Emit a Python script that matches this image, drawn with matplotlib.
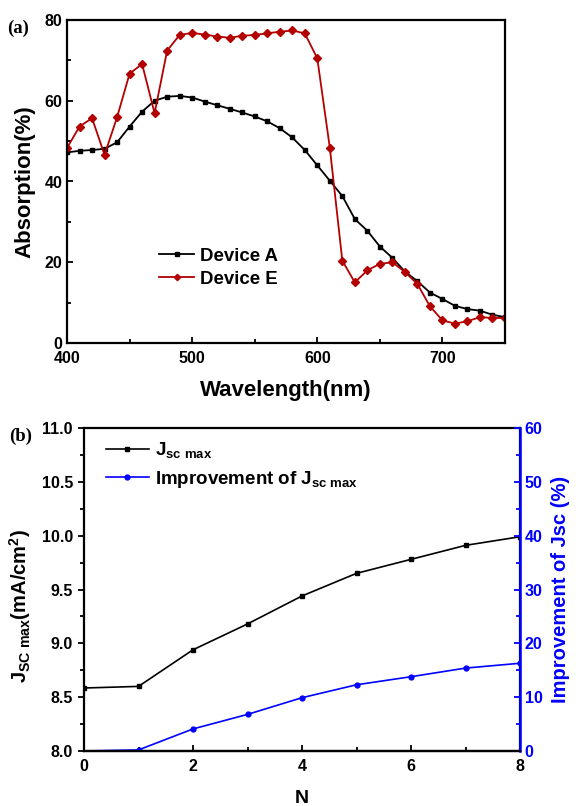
import matplotlib
matplotlib.use("Agg")
import matplotlib.pyplot as plt
from matplotlib.ticker import MultipleLocator, FormatStrFormatter

plt.rcParams['font.family'] = ['Liberation Sans', 'DejaVu Sans']
plt.rcParams['font.weight'] = 'bold'
plt.rcParams['mathtext.fontset'] = 'custom'
plt.rcParams['mathtext.rm'] = 'Liberation Sans:bold'
plt.rcParams['mathtext.it'] = 'Liberation Sans:bold'
plt.rcParams['mathtext.bf'] = 'Liberation Sans:bold'
plt.rcParams['mathtext.sf'] = 'Liberation Sans'

# ---- data (a) ----
wavelength = [400, 410, 420, 430, 440, 450, 460, 470, 480, 490, 500, 510, 520, 530,
              540, 550, 560, 570, 580, 590, 600, 610, 620, 630, 640, 650, 660, 670,
              680, 690, 700, 710, 720, 730, 740, 750]
device_a = [47.2, 47.6, 47.8, 48.1, 49.7, 53.6, 57.3, 60.0, 61.0, 61.2, 60.8, 59.8,
            58.9, 58.0, 57.1, 56.1, 54.9, 53.2, 50.9, 47.8, 44.0, 40.2, 36.4, 30.7,
            27.8, 23.9, 21.1, 17.7, 15.3, 12.5, 10.9, 9.2, 8.4, 8.0, 7.0, 6.4]
device_e = [48.3, 53.6, 55.7, 46.6, 55.9, 66.7, 69.1, 56.9, 72.4, 76.3, 76.8, 76.4,
            75.9, 75.6, 76.1, 76.3, 76.7, 77.1, 77.4, 76.7, 70.5, 48.4, 20.4, 15.0,
            18.0, 19.6, 20.0, 17.6, 14.6, 9.1, 5.6, 4.8, 5.4, 6.4, 6.2, 6.2]

# ---- data (b) ----
n_layers = [0, 1, 2, 3, 4, 5, 6, 7, 8]
jsc_max = [8.585, 8.60, 8.94, 9.18, 9.44, 9.65, 9.78, 9.91, 9.99]
improvement = [0.0, 0.2, 4.1, 6.8, 9.9, 12.3, 13.8, 15.4, 16.3]

W, H = 581, 806
fig = plt.figure(figsize=(W / 100, H / 100), dpi=100)

def box(l, r, t, b):
    return [l / W, 1 - b / H, (r - l) / W, (b - t) / H]

red = '#B30000'
blue = '#0000FF'
tick_fs = 11.5

# ---------- panel (a) ----------
ax1 = fig.add_axes(box(67, 505, 20, 343))
ax1.plot(wavelength, device_a, color='black', lw=1.3, marker='s', ms=3.5, label='Device A')
ax1.plot(wavelength, device_e, color=red, lw=1.3, marker='D', ms=4, label='Device E')
ax1.set_xlim(400, 750)
ax1.set_ylim(0, 80)
ax1.xaxis.set_major_locator(MultipleLocator(100))
ax1.xaxis.set_minor_locator(MultipleLocator(50))
ax1.yaxis.set_major_locator(MultipleLocator(20))
ax1.yaxis.set_minor_locator(MultipleLocator(10))
ax1.tick_params(which='both', direction='in', top=False, right=False, labelsize=tick_fs, width=1.3)
ax1.tick_params(which='major', length=4.5)
ax1.tick_params(which='minor', length=3)
ax1.tick_params(axis='x', pad=6)
for s in ax1.spines.values():
    s.set_linewidth(1.6)
ax1.set_xlabel('Wavelength(nm)', fontsize=16, fontweight='bold', labelpad=10)
ax1.set_ylabel('Absorption(%)', fontsize=16, fontweight='bold', labelpad=6)
ax1.legend(loc='upper left', bbox_to_anchor=(0.21, 0.295), frameon=False,
           fontsize=13.4, borderaxespad=0, borderpad=0, handlelength=1.9,
           handletextpad=0.3, labelspacing=0.32, markerscale=0.8)
fig.text(7 / W, 1 - 28 / H, '(a)', family='Liberation Serif', fontweight='bold',
         fontsize=13.5, va='center', ha='left')

# ---------- panel (b) ----------
ax2 = fig.add_axes(box(84, 520, 428, 751))
l1, = ax2.plot(n_layers, jsc_max, color='black', lw=1.2, marker='s', ms=3.5,
               label=r'J$_{\mathregular{sc\ max}}$')
ax2.set_xlim(0, 8)
ax2.set_ylim(8.0, 11.0)
ax2.xaxis.set_major_locator(MultipleLocator(2))
ax2.xaxis.set_minor_locator(MultipleLocator(1))
ax2.yaxis.set_major_locator(MultipleLocator(0.5))
ax2.yaxis.set_minor_locator(MultipleLocator(0.25))
ax2.yaxis.set_major_formatter(FormatStrFormatter('%.1f'))
ax2.tick_params(axis='x', which='both', direction='in', top=False, labelsize=tick_fs, width=1.3, pad=6)
ax2.tick_params(axis='y', which='both', direction='out', right=False, labelsize=tick_fs, width=1.3)
ax2.tick_params(which='major', length=4.5)
ax2.tick_params(which='minor', length=3)
for s in ax2.spines.values():
    s.set_linewidth(1.6)
ax2.set_xlabel('N', fontsize=14, fontweight='bold', labelpad=11)
ax2.set_ylabel(r'J$_{\mathsf{SC\ max}}$(mA/cm$^{\mathsf{2}}$)', fontsize=14.5, fontweight='bold', labelpad=3)
ax2.yaxis.set_label_coords(-0.118, 0.45)

ax3 = ax2.twinx()
l2, = ax3.plot(n_layers, improvement, color=blue, lw=1.2, marker='o', ms=3.5,
               markevery=slice(1, None),
               label=r'Improvement of J$_{\mathregular{sc\ max}}$')
ax3.set_ylim(0, 60)
ax3.yaxis.set_major_locator(MultipleLocator(10))
ax3.yaxis.set_minor_locator(MultipleLocator(5))
ax3.tick_params(axis='y', which='both', direction='in', colors=blue, labelsize=tick_fs, width=1.3)
ax3.tick_params(which='major', length=4.5)
ax3.tick_params(which='minor', length=3)
for lab in ax3.get_yticklabels():
    lab.set_fontweight('bold')
ax3.spines['right'].set_color(blue)
ax3.spines['right'].set_linewidth(1.8)
ax3.spines['bottom'].set_color('black')
ax3.spines['bottom'].set_linewidth(1.6)
for k in ('left', 'top'):
    ax3.spines[k].set_visible(False)
ax3.set_ylabel('Improvement of Jsc (%)', fontsize=14.5, fontweight='bold', color=blue, labelpad=6)

ax2.legend(handles=[l1, l2], loc='upper left', bbox_to_anchor=(0.05, 0.962), frameon=False,
           fontsize=13.5, borderaxespad=0, borderpad=0, handlelength=2.3,
           handletextpad=0.35, labelspacing=0.45)
fig.text(9 / W, 1 - 436 / H, '(b)', family='Liberation Serif', fontweight='bold',
         fontsize=13.5, va='center', ha='left')

fig.savefig('out.png', dpi=100)
